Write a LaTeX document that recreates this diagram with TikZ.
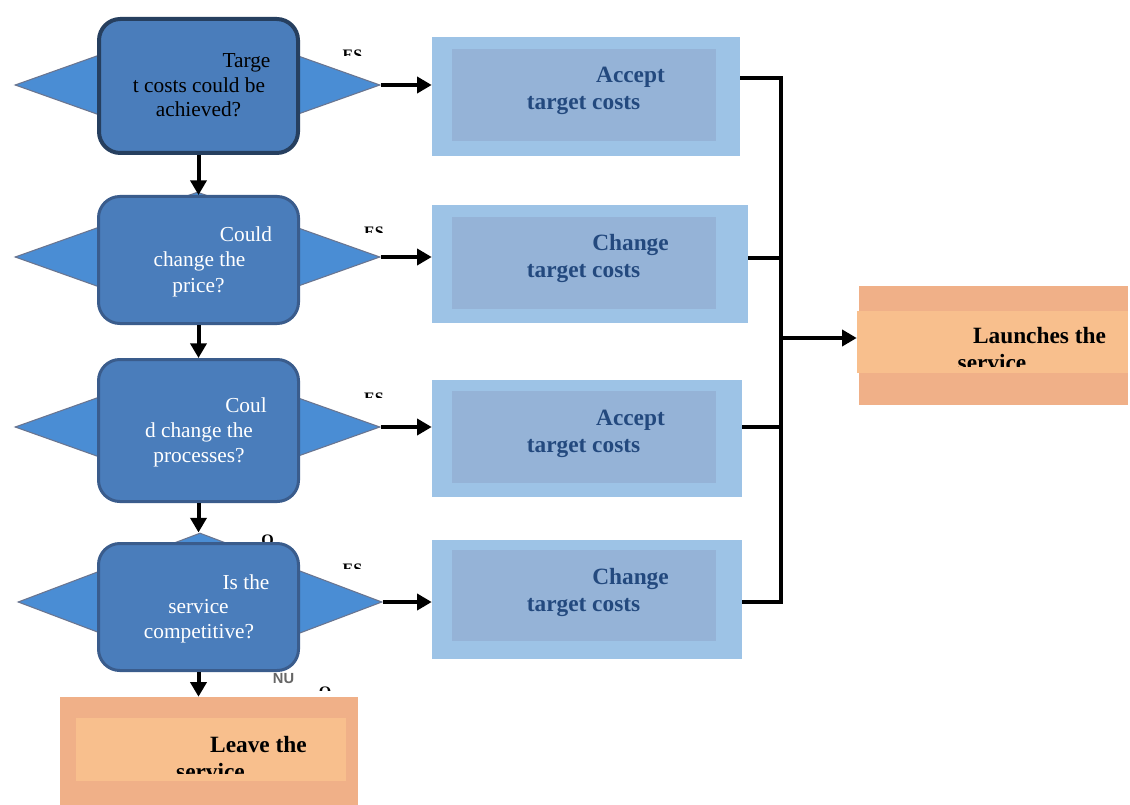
\documentclass[tikz,border=0pt]{standalone}
\usepackage{fontspec}
\setmainfont{Liberation Serif}
\setsansfont{Liberation Sans}
\usetikzlibrary{shapes.geometric,arrows.meta}
\definecolor{diafill}{HTML}{4A8DD4}
\definecolor{diaedge}{HTML}{6A7590}
\definecolor{qfill}{HTML}{4A7DBB}
\definecolor{qedgeA}{HTML}{263F5F}
\definecolor{qedge}{HTML}{3A5C8C}
\definecolor{ansOut}{HTML}{9DC3E6}
\definecolor{ansIn}{HTML}{95B3D7}
\definecolor{ansText}{HTML}{23497E}
\definecolor{orOut}{HTML}{F0B088}
\definecolor{orIn}{HTML}{F8BF8D}
\begin{document}
\begin{tikzpicture}[x=0.75pt,y=-0.75pt,
  dia/.style={diamond, draw=diaedge, fill=diafill, line width=0.8pt, inner sep=0pt, minimum width=273.75pt, minimum height=97.5pt},
  qbox/.style={rectangle, draw=qedge, fill=qfill, rounded corners=16pt, line width=2.25pt, inner sep=0pt, minimum width=150pt},
  outbox/.style={rectangle, fill=ansOut, inner sep=0pt},
  inbox/.style={rectangle, fill=ansIn, inner sep=0pt},
  obox/.style={rectangle, fill=orOut, inner sep=0pt},
  oin/.style={rectangle, fill=orIn, inner sep=0pt},
  tq/.style={font=\fontsize{16}{18}\selectfont, inner sep=0pt, anchor=base},
  ta/.style={font=\bfseries\fontsize{17.5}{21}\selectfont, text=ansText, inner sep=0pt, anchor=base},
  tb/.style={font=\bfseries\fontsize{17.5}{21}\selectfont, text=black, inner sep=0pt, anchor=base},
  frag/.style={font=\bfseries\fontsize{12}{14}\selectfont, inner sep=0pt, anchor=base},
  arr/.style={-{Triangle[length=11pt,width=12pt]}, line width=3pt, black},
  conn/.style={line width=2.4pt, black}]
\useasboundingbox (0,0) rectangle (1130,805);
\fill[white] (0,0) rectangle (1130,805);

% diamonds (behind)
\node[dia] (d1) at (197.5,85) {};
\node[dia] (d2) at (197.5,257) {};
\node[dia] (d3) at (197.5,427) {};
\node[dia, minimum width=273pt, minimum height=103.5pt] (d4) at (200,602) {};

% question boxes
\node[qbox, draw=qedgeA, line width=3pt, minimum width=149.25pt, minimum height=100.5pt] (q1) at (198.5,86) {};
\node[qbox, minimum height=95.25pt] (q2) at (198.5,260) {};
\node[qbox, minimum height=106.5pt] (q3) at (198.5,430.5) {};
\node[qbox, minimum height=95.25pt] (q4) at (198.5,607) {};

\node[tq] (q1a) at (246.5,68) {Targe};
\node[tq] (q1b) at (199,93) {t costs could be};
\node[tq] (q1c) at (198.5,117) {achieved?};
\node[tq, text=white] (q2a) at (246,242) {Could};
\node[tq, text=white] (q2b) at (199.5,267) {change the};
\node[tq, text=white] (q2c) at (198.5,292) {price?};
\node[tq, text=white] (q3a) at (246,412) {Coul};
\node[tq, text=white] (q3b) at (199,437) {d change the};
\node[tq, text=white] (q3c) at (199,462) {processes?};
\node[tq, text=white] (q4a) at (246,589) {Is the};
\node[tq, text=white] (q4b) at (198.5,613) {service};
\node[tq, text=white] (q4c) at (199,638) {competitive?};

% answer boxes
\node[outbox, minimum width=231pt, minimum height=89.25pt] (a1) at (586,96.5) {};
\node[inbox, minimum width=198pt, minimum height=69pt] (a1i) at (584,95) {};
\node[outbox, minimum width=237pt, minimum height=88.5pt] (a2) at (590,264) {};
\node[inbox, minimum width=198pt, minimum height=69pt] (a2i) at (584,263) {};
\node[outbox, minimum width=232.5pt, minimum height=87.75pt] (a3) at (587,438.5) {};
\node[inbox, minimum width=198pt, minimum height=69pt] (a3i) at (584,437) {};
\node[outbox, minimum width=232.5pt, minimum height=89.25pt] (a4) at (587,599.5) {};
\node[inbox, minimum width=198pt, minimum height=68.25pt] (a4i) at (584,595.5) {};

\node[ta] (a1a) at (630.5,83) {Accept};
\node[ta] (a1b) at (583.5,110) {target costs};
\node[ta] (a2a) at (630.5,251) {Change};
\node[ta] (a2b) at (583.5,278) {target costs};
\node[ta] (a3a) at (630.5,425) {Accept};
\node[ta] (a3b) at (583.5,452) {target costs};
\node[ta] (a4a) at (630.5,584) {Change};
\node[ta] (a4b) at (583.5,611) {target costs};

% launch box
\node[obox, minimum width=201.75pt, minimum height=89.25pt] (lo) at (993.5,345.5) {};
\node[oin, minimum width=203.25pt, minimum height=46.5pt] (li) at (992.5,342) {};
\node[tb] (l1) at (1039.5,343) {Launches the};
\begin{scope}
  \clip (857,311) rectangle (1128,366);
  \node[tb] (l2) at (992,370) {service};
\end{scope}

% leave box
\node[obox, minimum width=223.5pt, minimum height=81pt] (vo) at (209,751) {};
\node[oin, minimum width=202.5pt, minimum height=47.25pt] (vi) at (211,749.5) {};
\node[tb] (v1) at (258.5,752) {Leave the};
\begin{scope}
  \clip (76,718) rectangle (346,773);
  \node[tb] (v2) at (210.5,779) {service};
\end{scope}

% fragments of labels
\begin{scope}
  \clip (330,40) rectangle (420,55.5);
  \node[frag] (f1) at (352.5,61) {ES};
\end{scope}
\begin{scope}
  \clip (355,220) rectangle (395,232.5);
  \node[frag] (f2) at (374,238) {ES};
\end{scope}
\begin{scope}
  \clip (355,385) rectangle (395,397.5);
  \node[frag] (f3) at (374,403) {ES};
\end{scope}
\begin{scope}
  \clip (330,555) rectangle (380,568.5);
  \node[frag] (f4) at (352.5,574) {ES};
\end{scope}
\begin{scope}
  \clip (255,525) rectangle (285,541);
  \node[frag] (f5) at (267.5,545) {O};
\end{scope}
\node[font=\sffamily\bfseries\fontsize{11}{12}\selectfont, text=gray!80!black, inner sep=0pt, anchor=base] (f6) at (283.5,683) {NU};
\begin{scope}
  \clip (315,680) rectangle (335,690.5);
  \node[frag] (f7) at (325,697) {O};
\end{scope}

% arrows down
\draw[arr] (q1.south) -- (q2.north);
\draw[arr] (q2.south) -- (q3.north);
\draw[arr] (q3.south) -- (q3.south |- d4.north);
\draw[arr] (q4.south) -- (vo.north -| q4.south);

% arrows right
\draw[arr] (d1.east) -- (a1.west |- d1.east);
\draw[arr] (d2.east) -- (a2.west |- d2.east);
\draw[arr] (d3.east) -- (a3.west |- d3.east);
\draw[arr] (d4.east) -- (a4.west |- d4.east);

% collector
\coordinate (j1) at (781,78);
\coordinate (j2) at (781,258);
\coordinate (j3) at (781,427);
\coordinate (j4) at (781,602);
\coordinate (jm) at (781,338);
\draw[conn] (a1.east |- j1) -- (j1) -- (j4) -- (a4.east |- j4);
\draw[conn] (a2.east |- j2) -- (j2);
\draw[conn] (a3.east |- j3) -- (j3);
\draw[arr] (jm) -- (li.west |- jm);
\end{tikzpicture}
\end{document}
